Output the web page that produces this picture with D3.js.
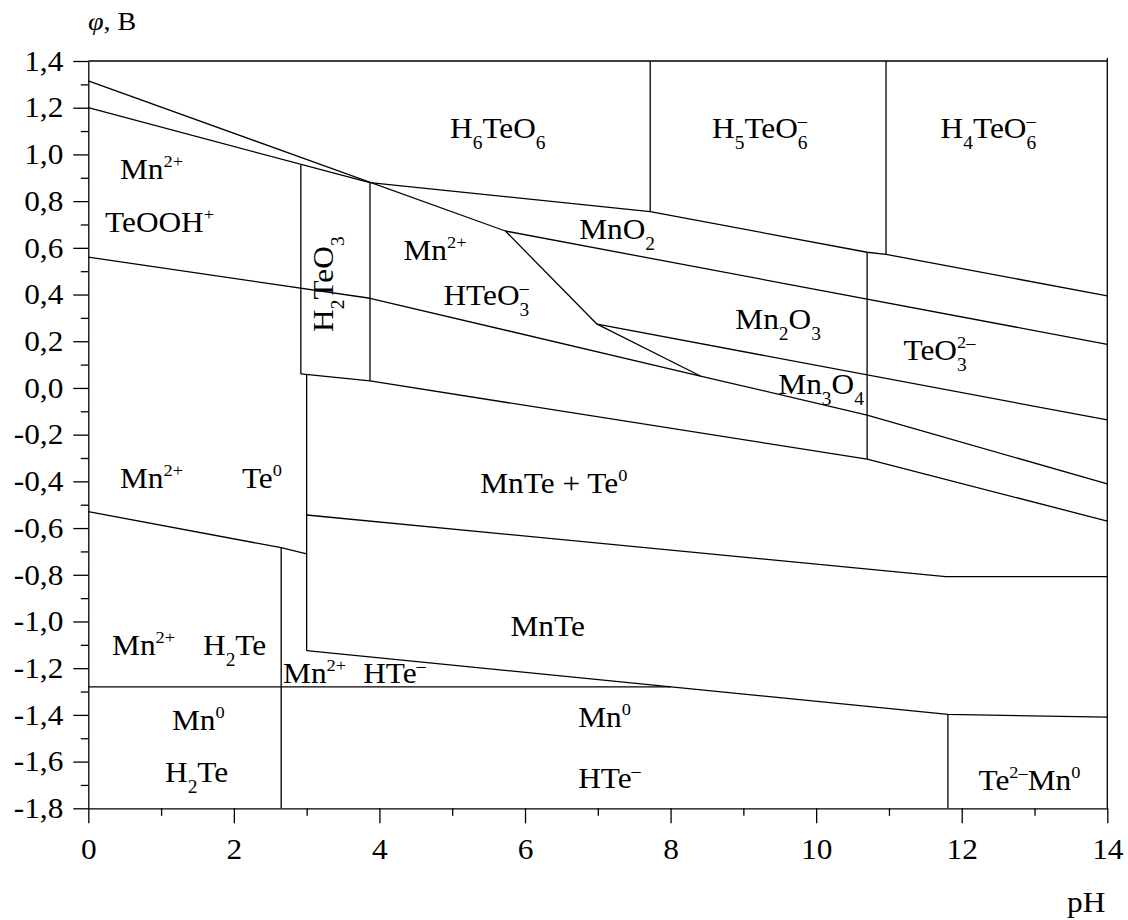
<!DOCTYPE html>
<html><head><meta charset="utf-8">
<script src="https://cdn.jsdelivr.net/npm/d3@7"></script>
<style>
body{margin:0;background:#fff}
svg text{font-family:"Liberation Serif","Times New Roman",serif;fill:#000}
</style></head>
<body><svg id="c" width="1128" height="920"></svg>
<script>
// ---------- data ----------
const xMajor = [0,2,4,6,8,10,12,14];
const xMinor = [1,3,5,7,9,11,13];
const yMajor = [-1.8,-1.6,-1.4,-1.2,-1.0,-0.8,-0.6,-0.4,-0.2,0,0.2,0.4,0.6,0.8,1.0,1.2,1.4];
const yMinor = [-1.7,-1.5,-1.3,-1.1,-0.9,-0.7,-0.5,-0.3,-0.1,0.1,0.3,0.5,0.7,0.9,1.1,1.3];

// boundary polylines [pH, phi]
const lineA      = [[0,1.315],[5.73,0.672],[6.99,0.273],[8.41,0.051]];
const lineB      = [[0,1.200],[3.87,0.879],[7.72,0.755],[10.70,0.581],[10.96,0.572],[14,0.394]];
const mnO2Mn2O3  = [[5.73,0.672],[14,0.187]];
const mn2O3Mn3O4 = [[6.99,0.273],[14,-0.137]];
const teoohLine  = [[0,0.560],[3.87,0.384],[8.41,0.051],[10.70,-0.116],[14,-0.411]];
const teLine     = [[2.92,0.060],[3.87,0.030],[10.70,-0.305],[14,-0.570]];
const mnteTeLine = [[3.0,-0.544],[11.78,-0.808],[14,-0.808]];
const te0H2Te    = [[0,-0.530],[2.65,-0.684],[3.0,-0.711]];
const mnteLower  = [[3.0,-1.125],[11.81,-1.398],[14,-1.410]];
const mn0Line    = [[0,-1.280],[8.0,-1.280]];
// vertical boundaries [pH, phiTop, phiBottom]
const verticals = [[2.92,0.955,0.060],[3.87,0.879,0.030],[3.0,0.057,-1.125],[2.65,-0.684,-1.8],
                   [7.72,1.4,0.755],[10.96,1.4,0.572],[10.70,0.581,-0.305],[11.81,-1.398,-1.8]];

// region labels: text, pH, phi (left/baseline anchor)
const labels = [
 ["Mn^{2+}",0.436,0.895],
 ["TeOOH^+",0.23,0.668],
 ["Mn^{2+}",4.33,0.548],
 ["HTeO_3^–",4.88,0.355],
 ["H_6TeO_6",4.97,1.071],
 ["H_5TeO_6^–",8.57,1.071],
 ["H_4TeO_6^–",11.71,1.071],
 ["MnO_2",6.745,0.638],
 ["Mn_2O_3",8.89,0.253],
 ["TeO_3^{2–}",11.2,0.120],
 ["Mn_3O_4",9.48,-0.026],
 ["Mn^{2+}",0.436,-0.428],
 ["Te^0",2.11,-0.428],
 ["MnTe + Te^0",5.385,-0.450],
 ["MnTe",5.80,-1.062],
 ["Mn^{2+}",0.327,-1.143],
 ["H_2Te",1.576,-1.143],
 ["Mn^{2+}",2.676,-1.263],
 ["HTe^–",3.776,-1.263],
 ["Mn^0",1.15,-1.465],
 ["H_2Te",1.054,-1.687],
 ["Mn^0",6.73,-1.452],
 ["HTe^–",6.73,-1.713],
 ["Te^{2–}Mn^0",12.23,-1.722]
];
const verticalLabels = [["H_2TeO_3",3.36,0.24]];

const yTitle = "φ, В";
const xTitle = "pH";

// ---------- drawing ----------
const FONT = '"Liberation Serif","Times New Roman",serif';
const svg = d3.select("#c");
const x = d3.scaleLinear().domain([0,14]).range([88.3,1107.3]);
const y = d3.scaleLinear().domain([-1.8,1.4]).range([808.3,61]);
const SX = 1.08;
const loc = d3.formatLocale({decimal:",",thousands:" ",grouping:[3],currency:["",""],minus:"-"});
const fmt = loc.format(".1f");

function styleAxis(g){
  g.attr("font-size",29).attr("font-family",FONT);
  g.selectAll("text").style("font-family",FONT).style("font-size","29px");
  g.selectAll("path,line").attr("stroke","#000").attr("stroke-width",1.3);
}
function stretchText(g){
  g.selectAll(".tick text").each(function(){
    const t=d3.select(this); const xx=+(t.attr("x")||0);
    t.attr("x",0).attr("transform",`translate(${xx},0) scale(${SX},1)`);
  });
}
// y axis
svg.append("g").attr("transform",`translate(${x(0)},0)`)
  .call(d3.axisLeft(y).tickValues(yMajor).tickSize(15).tickPadding(10).tickSizeOuter(0).tickFormat(v=>fmt(v)))
  .call(styleAxis).call(stretchText);
svg.append("g").attr("transform",`translate(${x(0)},0)`)
  .call(d3.axisLeft(y).tickValues(yMinor).tickSize(7.5).tickFormat(""))
  .call(styleAxis).call(g=>g.select(".domain").remove());
// x axis
svg.append("g").attr("transform",`translate(0,${y(-1.8)})`)
  .call(d3.axisBottom(x).tickValues(xMajor).tickSize(15).tickPadding(15).tickSizeOuter(0).tickFormat(d3.format("d")))
  .call(styleAxis).call(stretchText);
svg.append("g").attr("transform",`translate(0,${y(-1.8)})`)
  .call(d3.axisBottom(x).tickValues(xMinor).tickSize(7.5).tickFormat(""))
  .call(styleAxis).call(g=>g.select(".domain").remove());

// frame top/right
const frame = svg.append("g").attr("stroke","#000").attr("stroke-width",1.3);
frame.append("line").attr("x1",x(0)).attr("x2",x(14)).attr("y1",y(1.4)).attr("y2",y(1.4));
frame.append("line").attr("x1",x(14)).attr("x2",x(14)).attr("y1",y(1.4)-3).attr("y2",y(-1.8));

// boundary lines
const line = d3.line().x(d=>x(d[0])).y(d=>y(d[1]));
const polys = [lineA,lineB,mnO2Mn2O3,mn2O3Mn3O4,teoohLine,teLine,mnteTeLine,te0H2Te,mnteLower,mn0Line];
svg.append("g").selectAll("path").data(polys).join("path")
  .attr("d",line).attr("fill","none").attr("stroke","#000").attr("stroke-width",1.3).attr("stroke-linejoin","round");
svg.append("g").selectAll("line").data(verticals).join("line")
  .attr("x1",d=>x(d[0])).attr("x2",d=>x(d[0])).attr("y1",d=>y(d[1])).attr("y2",d=>y(d[2]))
  .attr("stroke","#000").attr("stroke-width",1.3);

// labels with sub/superscripts
function parse(s){
  const segs=[]; let i=0;
  while(i<s.length){
    const c=s[i];
    if(c==="_"||c==="^"){
      let t;
      if(s[i+1]==="{"){const j=s.indexOf("}",i); t=s.slice(i+2,j); i=j+1;}
      else {t=s[i+1]; i+=2;}
      segs.push({t,k:c==="_"?"sub":"sup"});
    } else {
      let j=i; while(j<s.length&&s[j]!=="_"&&s[j]!=="^") j++;
      segs.push({t:s.slice(i,j),k:"n"}); i=j;
    }
  }
  return segs;
}
function drawLabel(parent,str,px,py,rot){
  const g=parent.append("g").attr("transform",`translate(${px},${py})`+(rot?" rotate(-90)":"")+` scale(${SX},1)`);
  let cx=0, prev=null;
  for(const s of parse(str)){
    const fs = s.k==="n"?29:(s.k==="sub"?18:17);
    const dy = s.k==="sub"?11:(s.k==="sup"?-12:0);
    let x0=cx;
    if(s.k==="sup"&&prev&&prev.k==="sub") x0=prev.x0;
    const t=g.append("text").attr("x",x0).attr("y",dy).style("font-size",fs+"px").style("font-family",FONT)
      .style("white-space","pre").text(s.t);
    const w=t.node().getComputedTextLength();
    cx=Math.max(cx,x0+w);
    prev={k:s.k,x0};
  }
}
const lg=svg.append("g");
labels.forEach(d=>drawLabel(lg,d[0],x(d[1]),y(d[2]),false));
verticalLabels.forEach(d=>drawLabel(lg,d[0],x(d[1]),y(d[2]),true));

// axis titles
const yt = svg.append("text").attr("transform",`translate(88,30) scale(${SX},1)`).style("font-size","26px").style("font-family",FONT);
yt.append("tspan").attr("font-style","italic").text(yTitle.slice(0,1));
yt.append("tspan").text(yTitle.slice(1));
svg.append("text").attr("transform",`translate(1067,912) scale(${SX},1)`).style("font-size","29px").style("font-family",FONT).text(xTitle);
</script></body></html>
